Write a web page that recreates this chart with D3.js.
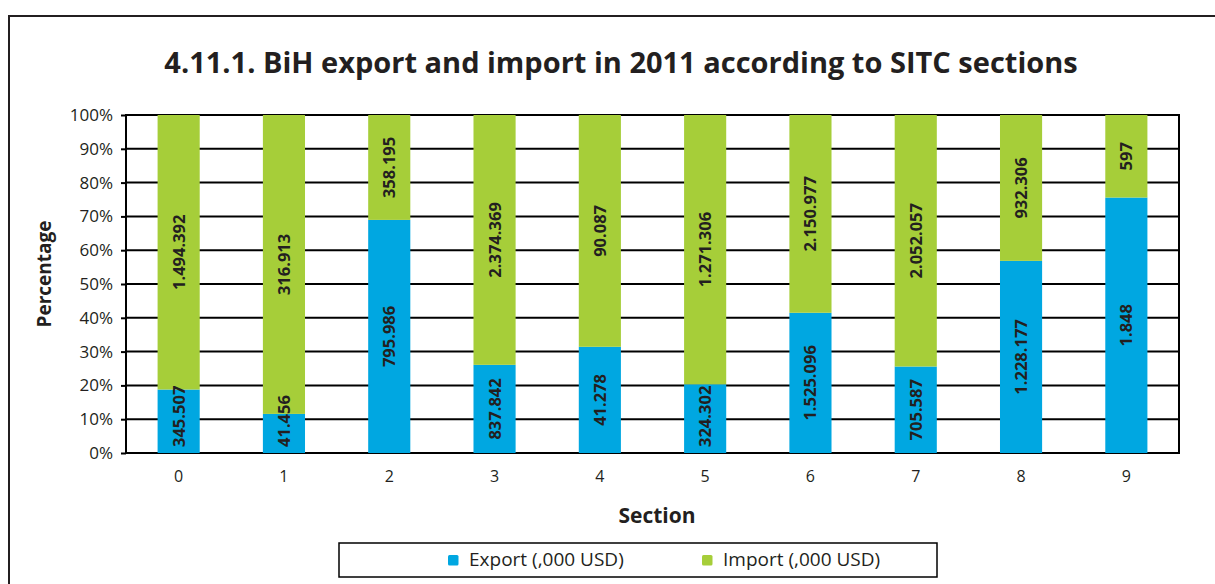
<!DOCTYPE html>
<html><head><meta charset="utf-8">
<script src="https://cdn.jsdelivr.net/npm/d3@7"></script>
<style>body{margin:0;background:#fff}svg{display:block}</style>
</head><body>
<svg id="c" width="1215" height="584"></svg>
<script>
const sections = ["0","1","2","3","4","5","6","7","8","9"];
const exportVals = [345507, 41456, 795986, 837842, 41278, 324302, 1525096, 705587, 1228177, 1848];
const importVals = [1494392, 316913, 358195, 2374369, 90087, 1271306, 2150977, 2052057, 932306, 597];
const exportLabels = ["345.507","41.456","795.986","837.842","41.278","324.302","1.525.096","705.587","1.228.177","1.848"];
const importLabels = ["1.494.392","316.913","358.195","2.374.369","90.087","1.271.306","2.150.977","2.052.057","932.306","597"];
const yTicks = [0,0.1,0.2,0.3,0.4,0.5,0.6,0.7,0.8,0.9,1];
const seriesNames = ["Export (,000 USD)","Import (,000 USD)"];
const colors = ["#00a7e1","#a6ce39"];

const FONT = "'Open Sans', 'Noto Sans', sans-serif";
const TXT = "#231f20";
const svg = d3.select("#c");
svg.style("font-family", FONT);

// outer frame
svg.append("rect").attr("x",9).attr("y",16).attr("width",1230).attr("height",600)
  .attr("fill","none").attr("stroke",TXT).attr("stroke-width",2);

const m = {l:126, r:1179, t:115, b:453};
const x = d3.scaleBand().domain(sections).range([m.l, m.r]).paddingInner(0.6).paddingOuter(0.3);
const y = d3.scaleLinear().domain([0,1]).range([m.b, m.t]);

// title
svg.append("text").attr("x",621).attr("y",73).attr("text-anchor","middle")
  .attr("font-size",29).attr("font-weight","bold").attr("fill",TXT)
  .text("4.11.1. BiH export and import in 2011 according to SITC sections");

// y axis + grid
const yAxis = d3.axisLeft(y).tickValues(yTicks).tickFormat(d3.format(".0%")).tickSize(5).tickPadding(8);
const gy = svg.append("g").attr("transform",`translate(${m.l},0)`).call(yAxis);
gy.select(".domain").remove();
gy.selectAll("line").attr("stroke","#000").attr("stroke-width",2);
gy.selectAll("text").attr("font-size",17).attr("fill",TXT).attr("font-family",FONT);
svg.append("g").selectAll("line").data(yTicks).join("line")
  .attr("x1",m.l).attr("x2",m.r).attr("y1",d=>y(d)).attr("y2",d=>y(d))
  .attr("stroke","#000").attr("stroke-width",2);
svg.append("line").attr("x1",m.l).attr("x2",m.l).attr("y1",m.t-1).attr("y2",m.b+1).attr("stroke","#000").attr("stroke-width",2);
svg.append("line").attr("x1",m.r).attr("x2",m.r).attr("y1",m.t-1).attr("y2",m.b+1).attr("stroke","#000").attr("stroke-width",2);

// data
const data = sections.map((s,i)=>{
  const tot = exportVals[i]+importVals[i];
  return {s, e: exportVals[i]/tot, el: exportLabels[i], il: importLabels[i]};
});
const g = svg.append("g");
g.selectAll("rect.exp").data(data).join("rect").attr("class","exp")
  .attr("x",d=>x(d.s)).attr("width",x.bandwidth())
  .attr("y",d=>y(d.e)).attr("height",d=>y(0)-y(d.e)).attr("fill",colors[0]);
g.selectAll("rect.imp").data(data).join("rect").attr("class","imp")
  .attr("x",d=>x(d.s)).attr("width",x.bandwidth())
  .attr("y",d=>y(1)).attr("height",d=>y(d.e)-y(1)).attr("fill",colors[1]);

function lab(sel, val, txt){
  sel.selectAll(null).data(data).join("text")
    .attr("text-anchor","middle").attr("dy","0.36em")
    .attr("font-size",16.5).attr("font-weight","bold").attr("fill",TXT)
    .text(txt)
    .attr("transform",function(d){
      const half = this.getComputedTextLength()/2;
      let c = val(d);
      c = Math.min(c, m.b - 6 - half);
      c = Math.max(c, m.t + 4 + half);
      return `translate(${x(d.s)+x.bandwidth()/2},${c}) rotate(-90)`;
    });
}
lab(g, d=>(y(0)+y(d.e))/2, d=>d.el);
lab(g, d=>(y(1)+y(d.e))/2, d=>d.il);

// x axis labels
const xAxis = d3.axisBottom(x).tickSize(0);
const gx = svg.append("g").attr("transform",`translate(0,${m.b})`).call(xAxis);
gx.select(".domain").remove();
gx.selectAll("text").attr("y",29).attr("dy",0).attr("font-size",16).attr("fill",TXT).attr("font-family",FONT);

svg.append("text").attr("x",657).attr("y",523).attr("text-anchor","middle")
  .attr("font-size",21).attr("font-weight","bold").attr("fill",TXT).text("Section");
svg.append("text").attr("transform",`translate(51,274) rotate(-90)`).attr("text-anchor","middle")
  .attr("font-size",19).attr("font-weight","bold").attr("fill",TXT).text("Percentage");

// legend
svg.append("rect").attr("x",339).attr("y",543).attr("width",598).attr("height",34)
  .attr("fill","#fff").attr("stroke","#000").attr("stroke-width",1.5);
const lx = [448, 702];
seriesNames.forEach((n,i)=>{
  svg.append("rect").attr("x",lx[i]).attr("y",555).attr("width",10.5).attr("height",10.5).attr("rx",1.5).attr("fill",colors[i]);
  svg.append("text").attr("x",lx[i]+21).attr("y",566).attr("font-size",19).attr("fill",TXT).text(n);
});
</script>
</body></html>
